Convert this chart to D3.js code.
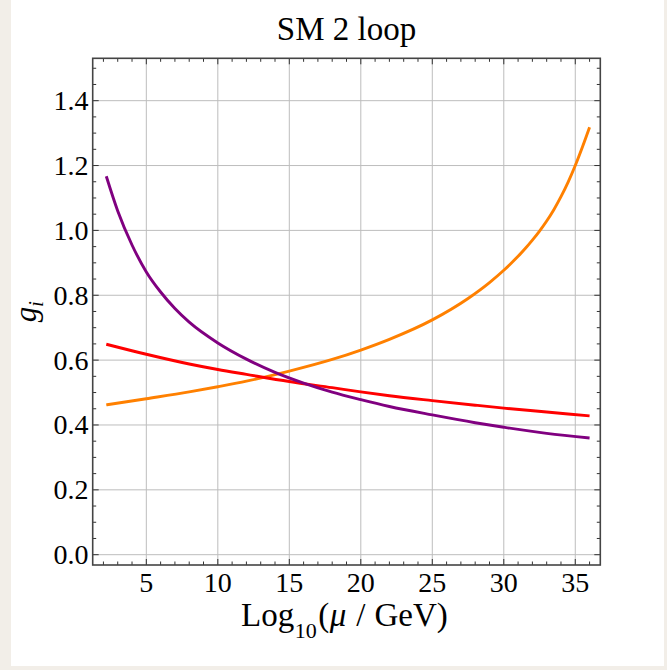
<!DOCTYPE html>
<html>
<head>
<meta charset="utf-8">
<script src="https://cdn.jsdelivr.net/npm/d3@7"></script>
<style>
  html, body { margin: 0; padding: 0; background: #f2eee8; }
  svg { display: block; }
  text { font-family: "Liberation Serif", "Times New Roman", serif; fill: #000; }
</style>
</head>
<body>
<svg id="chart" width="667" height="670"></svg>
<script>
// Running gauge couplings g_i versus Log10(mu / GeV), two-loop SM running.
const xStrong = [2.2, 3, 4, 5, 6, 7, 8, 10, 12, 14, 16, 18, 20, 22, 25, 28, 30, 33, 36];
const gStrong = [1.167, 1.06, 0.955, 0.872, 0.81, 0.759, 0.717, 0.653, 0.603, 0.562, 0.529, 0.501, 0.478, 0.457, 0.431, 0.407, 0.393, 0.374, 0.360];

const xWeak = [2.2, 5, 8, 10, 12, 15, 18, 20, 22, 25, 28, 30, 33, 36];
const gWeak = [0.649, 0.618, 0.588, 0.571, 0.556, 0.534, 0.515, 0.502, 0.490, 0.475, 0.461, 0.452, 0.440, 0.428];

const xHyper = [2.2, 5, 8, 10, 12, 15, 18, 20, 22, 25, 27.5, 29, 30, 30.5, 31, 31.5, 32, 32.5, 33, 33.5, 34, 34.5, 35, 35.5, 36];
const gHyper = [0.462, 0.481, 0.502, 0.518, 0.535, 0.566, 0.602, 0.631, 0.664, 0.724, 0.790, 0.839, 0.877, 0.898, 0.920, 0.944, 0.970, 0.998, 1.029, 1.064, 1.104, 1.149, 1.200, 1.257, 1.318];

const xTickValues = [5, 10, 15, 20, 25, 30, 35];
const xTickLabels = ["5", "10", "15", "20", "25", "30", "35"];
const yTickValues = [0, 0.2, 0.4, 0.6, 0.8, 1.0, 1.2, 1.4];
const yTickLabels = ["0.0", "0.2", "0.4", "0.6", "0.8", "1.0", "1.2", "1.4"];

const titleText = "SM 2 loop";

const svg = d3.select("#chart");

// page card
svg.append("rect")
  .attr("x", 11).attr("y", 0).attr("width", 653).attr("height", 666)
  .attr("fill", "#ffffff");

const frame = { left: 92.7, right: 600.3, top: 58.3, bottom: 565 };

const x = d3.scaleLinear().domain([1.25, 36.75]).range([frame.left, frame.right]);
const y = d3.scaleLinear().domain([-0.0318, 1.5307]).range([frame.bottom, frame.top]);

// grid
const grid = svg.append("g").attr("stroke", "#bdbdbd").attr("stroke-width", 1);
grid.selectAll("line.gx").data(xTickValues).join("line")
  .attr("x1", d => x(d)).attr("x2", d => x(d))
  .attr("y1", frame.top).attr("y2", frame.bottom);
grid.selectAll("line.gy").data(yTickValues).join("line")
  .attr("y1", d => y(d)).attr("y2", d => y(d))
  .attr("x1", frame.left).attr("x2", frame.right);

// curves
const line = d3.line().x(d => x(d[0])).y(d => y(d[1])).curve(d3.curveMonotoneX);
const series = [
  { xs: xHyper, ys: gHyper, color: "#ff8000" },
  { xs: xWeak, ys: gWeak, color: "#ff0000" },
  { xs: xStrong, ys: gStrong, color: "#800080" }
];
const curves = svg.append("g").attr("fill", "none").attr("stroke-width", 2.9);
series.forEach(s => {
  curves.append("path")
    .datum(s.xs.map((v, i) => [v, s.ys[i]]))
    .attr("stroke", s.color)
    .attr("d", line);
});

// inward ticks on all four sides
const xMinor = d3.range(2, 37, 1).filter(v => v % 5 !== 0);
const yMinor = d3.range(0, 31, 1).filter(i => i % 4 !== 0).map(i => i * 0.05);
const ticks = svg.append("g").attr("stroke", "#333").attr("stroke-width", 1);
const major = 6, minor = 3.5;
function xt(vals, len) {
  vals.forEach(v => {
    ticks.append("line").attr("x1", x(v)).attr("x2", x(v)).attr("y1", frame.bottom).attr("y2", frame.bottom - len);
    ticks.append("line").attr("x1", x(v)).attr("x2", x(v)).attr("y1", frame.top).attr("y2", frame.top + len);
  });
}
function yt(vals, len) {
  vals.forEach(v => {
    ticks.append("line").attr("y1", y(v)).attr("y2", y(v)).attr("x1", frame.left).attr("x2", frame.left + len);
    ticks.append("line").attr("y1", y(v)).attr("y2", y(v)).attr("x1", frame.right).attr("x2", frame.right - len);
  });
}
xt(xTickValues, major); xt(xMinor, minor);
yt(yTickValues, major); yt(yMinor, minor);

// frame
svg.append("rect")
  .attr("x", frame.left).attr("y", frame.top)
  .attr("width", frame.right - frame.left).attr("height", frame.bottom - frame.top)
  .attr("fill", "none").attr("stroke", "#444").attr("stroke-width", 1.6);

// tick labels
svg.append("g").selectAll("text").data(xTickValues).join("text")
  .attr("x", d => x(d)).attr("y", 592)
  .attr("text-anchor", "middle").attr("font-size", 28)
  .text((d, i) => xTickLabels[i]);
svg.append("g").selectAll("text").data(yTickValues).join("text")
  .attr("x", 88.5).attr("y", d => y(d) + 9.5)
  .attr("text-anchor", "end").attr("font-size", 28)
  .text((d, i) => yTickLabels[i]);

// title
svg.append("text")
  .attr("x", (frame.left + frame.right) / 2).attr("y", 40)
  .attr("text-anchor", "middle").attr("font-size", 33)
  .text(titleText);

// x axis label
const xl = svg.append("text")
  .attr("x", 241).attr("y", 626)
  .attr("text-anchor", "start").attr("font-size", 33);
xl.append("tspan").text("Log");
xl.append("tspan").attr("font-size", 22).attr("dx", 0.5).attr("dy", 11.5).text("10");
xl.append("tspan").attr("dx", 1.5).attr("dy", -11.5).text("(");
xl.append("tspan").attr("font-style", "italic").attr("dx", 0.5).text("\u03bc");
xl.append("tspan").attr("dx", 10).text("/");
xl.append("tspan").attr("dx", 9).text("GeV");
xl.append("tspan").text(")");

// y axis label
const yl = svg.append("text")
  .attr("transform", `translate(35.5, ${(frame.top + frame.bottom) / 2}) rotate(-90)`)
  .attr("text-anchor", "middle").attr("font-size", 31).attr("font-style", "italic");
yl.append("tspan").text("g");
yl.append("tspan").attr("font-size", 20).attr("dy", 7).text("i");
</script>
</body>
</html>
